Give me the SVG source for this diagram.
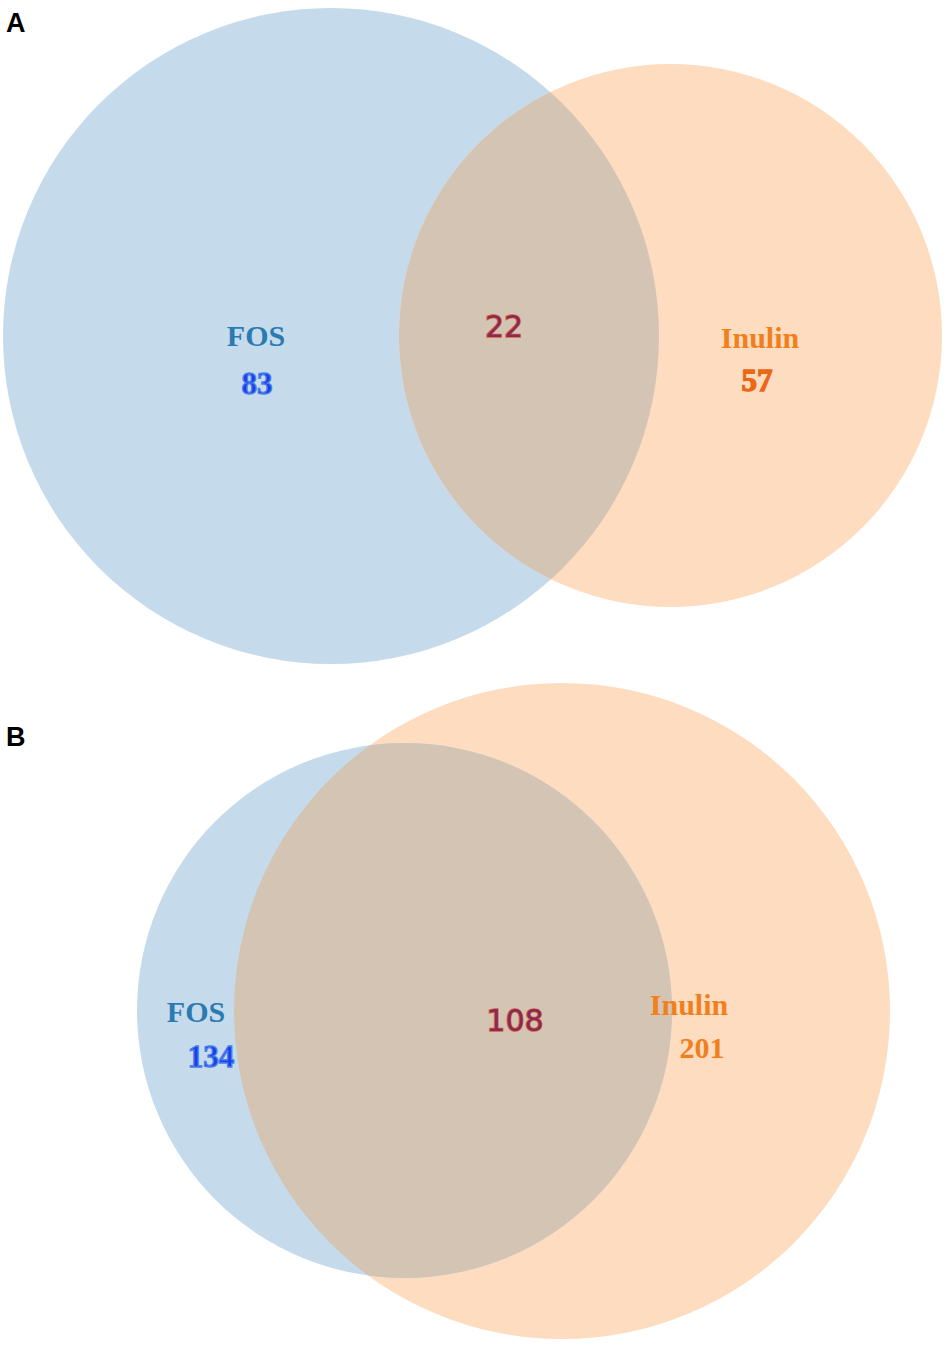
<svg xmlns="http://www.w3.org/2000/svg" width="950" height="1346" viewBox="0 0 950 1346">
<style>
.panel{font-family:"Liberation Sans",Arial,sans-serif;font-weight:bold;font-size:27px;fill:#000}
.lab{font-family:"Liberation Serif","Times New Roman",serif;font-weight:bold;font-size:30px;text-anchor:middle}
.num{font-family:"Liberation Serif","Times New Roman",serif;font-weight:bold;font-size:31px;text-anchor:middle;stroke-width:1.3}
.mid{font-family:"DejaVu Sans",sans-serif;font-size:30px;text-anchor:middle;fill:#8a2858;stroke:#d8663a;stroke-width:1.6;paint-order:stroke}
.blue{fill:#c5dbeb}
.orange{fill:#fddcc0}
.ov{fill:#d4c4b4}
</style>
<defs>
<clipPath id="clipA"><circle cx="331" cy="336" r="328"/></clipPath>
<clipPath id="clipB"><circle cx="404.5" cy="1010.5" r="267.5"/></clipPath>
</defs>
<text class="panel" x="6" y="32">A</text>
<text class="panel" x="6" y="746">B</text>
<g id="venn-a">
<g id="a-fos"><circle class="blue" cx="331" cy="336" r="328"/></g>
<g id="a-inulin"><circle class="orange" cx="670.5" cy="335.5" r="271.5"/></g>
<g id="a-overlap"><circle class="ov" cx="670.5" cy="335.5" r="271.5" clip-path="url(#clipA)"/></g>
<text class="lab" x="256" y="346" fill="#2b7bb1">FOS</text>
<text class="num" x="257" y="394" fill="#1a3cf0" stroke="#4a80e8">83</text>
<text class="mid" x="504" y="337">22</text>
<text class="lab" x="760" y="348" fill="#f07f1c">Inulin</text>
<text class="num" x="757" y="391" fill="#f06a10" stroke="#e8651a">57</text>
</g>
<g id="venn-b">
<g id="b-inulin"><circle class="orange" cx="562" cy="1011" r="328"/></g>
<g id="b-fos"><circle class="blue" cx="404.5" cy="1010.5" r="267.5"/></g>
<g id="b-overlap"><circle class="ov" cx="562" cy="1011" r="328" clip-path="url(#clipB)"/></g>
<text class="lab" x="196" y="1022" fill="#2b7bb1">FOS</text>
<text class="num" x="211" y="1067" fill="#1a3cf0" stroke="#4a80e8">134</text>
<text class="mid" x="515" y="1031">108</text>
<text class="lab" x="689" y="1015" fill="#f07f1c">Inulin</text>
<text class="lab" x="702" y="1058" fill="#f07f1c">201</text>
</g>
</svg>
